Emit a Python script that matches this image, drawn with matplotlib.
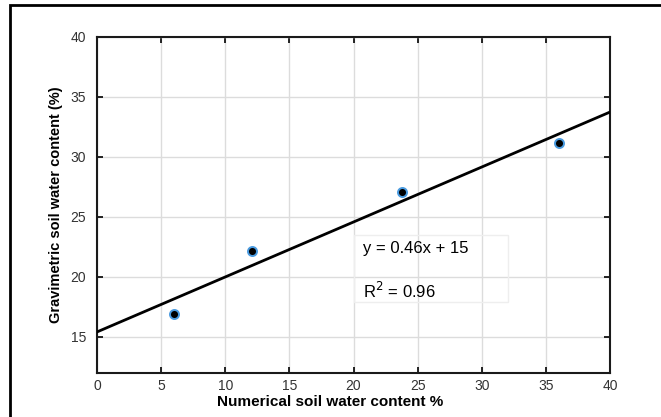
import matplotlib.pyplot as plt
from matplotlib.patches import Rectangle
import numpy as np

plt.rcParams['font.family'] = ['Liberation Sans', 'DejaVu Sans']

# data
numerico = [6.0, 12.1, 23.75, 36.0]
gravimetrico = [16.9, 22.15, 27.1, 31.2]
xticks = [0, 5, 10, 15, 20, 25, 30, 35, 40]
yticks = [15, 20, 25, 30, 35, 40]

W, H = 661, 417
fig = plt.figure(figsize=(W / 100, H / 100), dpi=100)

# outer black frame (cut off at right and bottom)
fig.patches.append(Rectangle((10 / W, -0.05), 1.1, 1 - 5 / H + 0.05,
                             transform=fig.transFigure, fill=False,
                             edgecolor='black', linewidth=2))

ax = fig.add_axes([97 / W, 1 - 373 / H, (610 - 97) / W, (373 - 37) / H])

# linear fit
a, b = np.polyfit(numerico, gravimetrico, 1)
xl = np.array([0, 40])
ax.plot(xl, a * xl + b, color='black', linewidth=2, zorder=3)

ax.plot(numerico, gravimetrico, 'o', markersize=6.5, markerfacecolor='black',
        markeredgecolor='#4a9be0', markeredgewidth=1.4, zorder=4)

ax.set_xlim(0, 40)
ax.set_ylim(12, 40)
ax.set_xticks(xticks)
ax.set_yticks(yticks)
ax.grid(True, color='#dcdcdc', linewidth=1)
ax.set_axisbelow(True)
ax.tick_params(direction='in', length=4, width=1.2, top=True, right=True,
               labelsize=10, labelcolor='#333333', pad=8)
ax.tick_params(axis='x', pad=4)
for s in ax.spines.values():
    s.set_linewidth(1.5)
    s.set_color('#1a1a1a')

ax.set_xlabel('Numerical soil water content %', fontsize=11, fontweight='bold')
ax.xaxis.set_label_coords(0.454, -0.066)
ax.set_ylabel('Gravimetric soil water content (%)', fontsize=10.5,
              fontweight='bold', labelpad=5)

# equation box
fig.patches.append(Rectangle((354 / W, 1 - 302 / H), (508 - 354) / W, (302 - 235) / H,
                             transform=fig.transFigure, fill=False,
                             edgecolor='#eeeeee', linewidth=1))
fig.text(363 / W, 1 - 249 / H, 'y = %.2fx + %d' % (a, round(b)), fontsize=12,
         va='center', ha='left')
r2 = np.corrcoef(numerico, gravimetrico)[0, 1] ** 2
fig.text(363 / W, 1 - 291 / H, 'R$^2$ = %.2f' % r2, fontsize=12,
         va='center', ha='left')

plt.savefig('out.png', dpi=100)
